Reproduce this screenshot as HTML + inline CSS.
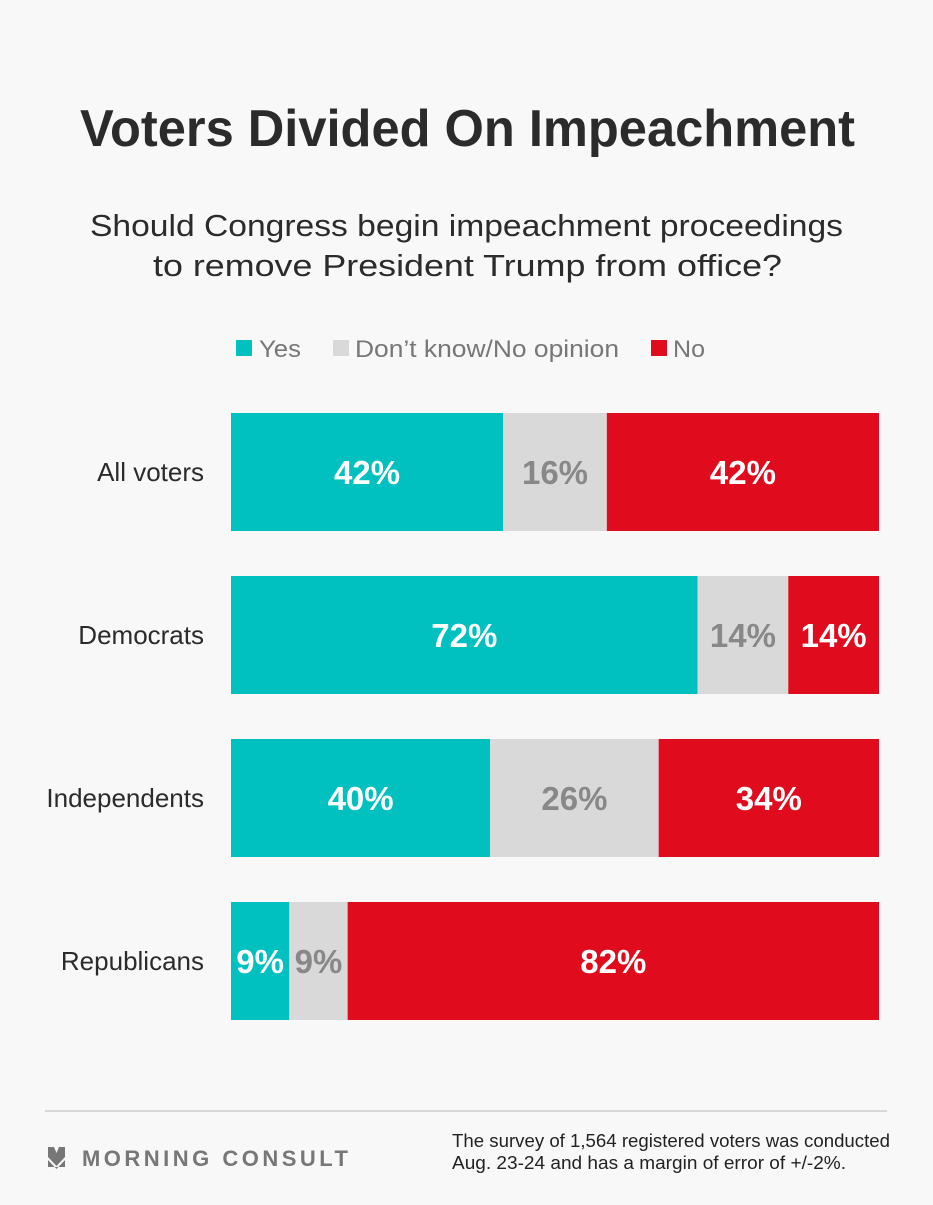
<!DOCTYPE html>
<html><head><meta charset="utf-8"><style>
body{margin:0;background:#f8f8f8;width:933px;height:1200px;overflow:hidden;font-family:"Liberation Sans",sans-serif;}
</style></head><body>
<svg id="chart" width="933" height="1200" xmlns="http://www.w3.org/2000/svg">
<rect width="933" height="1200" fill="#f8f8f8"/>
<text x="80" y="146" textLength="775" lengthAdjust="spacingAndGlyphs" font-size="52" font-weight="bold" fill="#2b2b2b" font-family="Liberation Sans, sans-serif">Voters Divided On Impeachment</text>
<text x="90" y="236" textLength="753" lengthAdjust="spacingAndGlyphs" font-size="31" fill="#2b2b2b" font-family="Liberation Sans, sans-serif">Should Congress begin impeachment proceedings</text>
<text x="153" y="276" textLength="629" lengthAdjust="spacingAndGlyphs" font-size="31" fill="#2b2b2b" font-family="Liberation Sans, sans-serif">to remove President Trump from office?</text>
<g id="legend" font-size="24" fill="#777" font-family="Liberation Sans, sans-serif">
<rect x="236" y="340" width="16" height="16" fill="#00c1c0"/>
<text x="259" y="357" textLength="42" lengthAdjust="spacingAndGlyphs">Yes</text>
<rect x="333" y="340" width="16" height="16" fill="#d9d9d9"/>
<text x="355" y="357" textLength="264" lengthAdjust="spacingAndGlyphs">Don’t know/No opinion</text>
<rect x="651" y="340" width="16" height="16" fill="#e00b1c"/>
<text x="673" y="357" textLength="32" lengthAdjust="spacingAndGlyphs">No</text>
</g>
<g id="bars"></g>
<line x1="45" y1="1111" x2="887" y2="1111" stroke="#ccc" stroke-width="1.5"/>
<g>
<polygon points="48,1147 54,1147 56.5,1153 59,1147 65,1147 65,1157 56.5,1166 48,1157" fill="#777"/>
<polygon points="48,1160 56.5,1169 65,1160 65,1167 48,1167" fill="#777"/>
<text x="82" y="1166" textLength="266" lengthAdjust="spacing" font-size="22" font-weight="bold" fill="#777" font-family="Liberation Sans, sans-serif">MORNING CONSULT</text>
</g>
<text x="452" y="1147" textLength="438" lengthAdjust="spacingAndGlyphs" font-size="18" fill="#222" font-family="Liberation Sans, sans-serif">The survey of 1,564 registered voters was conducted</text>
<text x="452" y="1169" textLength="394" lengthAdjust="spacingAndGlyphs" font-size="18" fill="#222" font-family="Liberation Sans, sans-serif">Aug. 23-24 and has a margin of error of +/-2%.</text>
</svg>
<script>
const categories = ["All voters","Democrats","Independents","Republicans"];
const yesValues = [42,72,40,9];
const dkValues = [16,14,26,9];
const noValues = [42,14,34,82];
const colors = ["#00c1c0","#d9d9d9","#e00b1c"];
const textColors = ["#fff","#888","#fff"];
const segNames = ["yes","dont-know","no"];
const ns = "http://www.w3.org/2000/svg";
const x0 = 231, plotW = 648, y0 = 413, step = 163, barH = 118;
const xScale = v => x0 + v / 100 * plotW;
const g = document.getElementById("bars");
categories.forEach((cat, i) => {
  const y = y0 + i * step;
  const lab = document.createElementNS(ns, "text");
  
  
  lab.setAttribute("x", 204); lab.setAttribute("y", y + barH/2 + 9);
  lab.setAttribute("text-anchor", "end"); lab.setAttribute("font-size", "26");
  lab.setAttribute("fill", "#2b2b2b"); lab.setAttribute("font-family", "Liberation Sans, sans-serif");
  lab.textContent = cat; g.appendChild(lab);
  const vals = [yesValues[i], dkValues[i], noValues[i]];
  let cum = 0;
  vals.forEach((v, j) => {
    const xa = xScale(cum), xb = xScale(cum + v);
    const r = document.createElementNS(ns, "rect");
    
    
    r.setAttribute("x", xa); r.setAttribute("y", y);
    r.setAttribute("width", xb - xa); r.setAttribute("height", barH);
    r.setAttribute("fill", colors[j]); g.appendChild(r);
    const t = document.createElementNS(ns, "text");
    
    
    t.setAttribute("x", (xa + xb) / 2); t.setAttribute("y", y + barH/2 + 12);
    t.setAttribute("text-anchor", "middle"); t.setAttribute("font-size", "33");
    t.setAttribute("font-weight", "bold"); t.setAttribute("fill", textColors[j]);
    t.setAttribute("font-family", "Liberation Sans, sans-serif");
    t.textContent = v + "%"; g.appendChild(t);
    cum += v;
  });
});
</script>
</body></html>
